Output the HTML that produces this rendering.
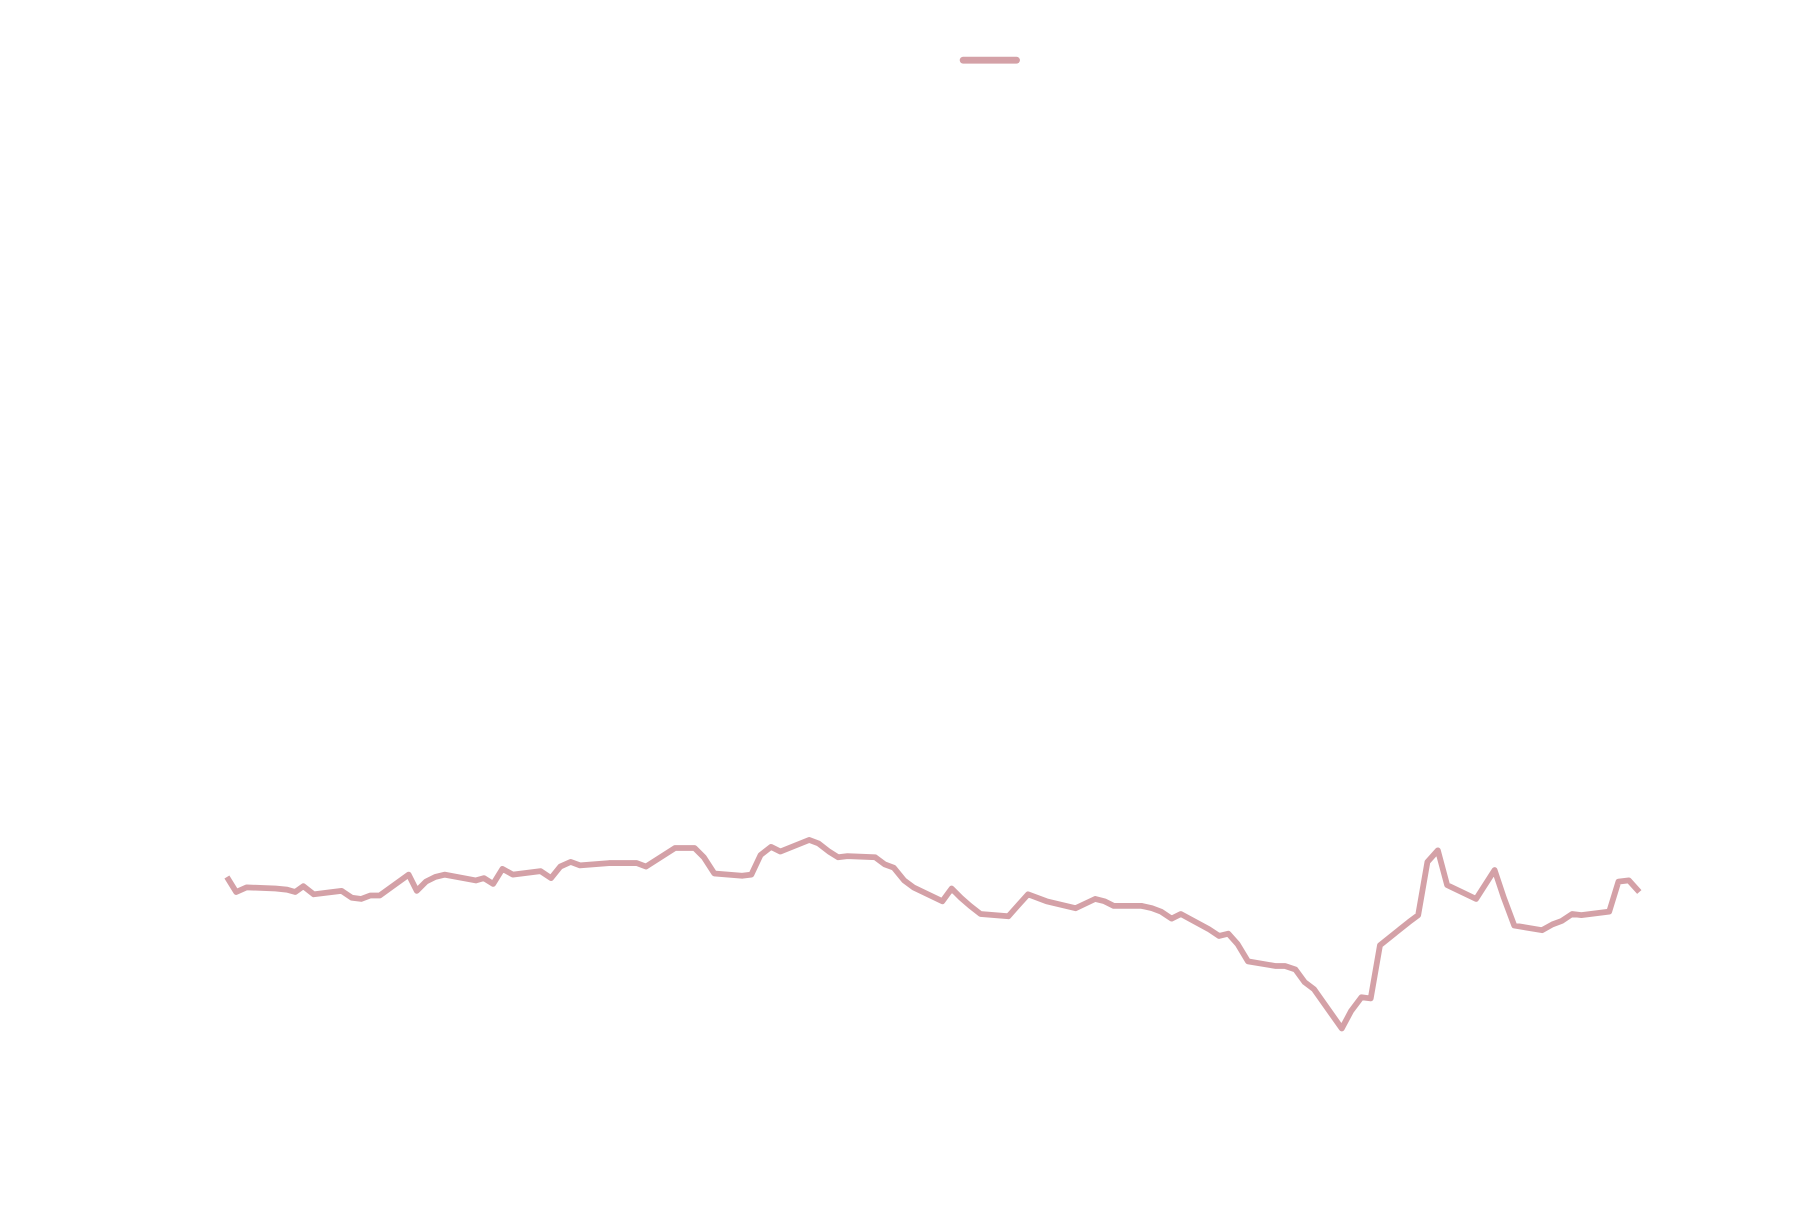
<!DOCTYPE html>
<html><head><meta charset="utf-8"><style>html,body{margin:0;padding:0;background:#fff}svg{display:block}</style></head>
<body>
<svg width="1806" height="1209" viewBox="0 0 1560 1045" preserveAspectRatio="none" xmlns="http://www.w3.org/2000/svg">
<line x1="832" y1="52" x2="878" y2="52" stroke="#d4a1a7" stroke-width="6" stroke-linecap="round"/>
<g id="plot"></g>
</svg>
<script>
const days = [0,8,17,42,52,59,66,75,99,108,116,124,132,157,164,172,180,188,215,222,230,238,247,271,280,288,297,305,330,354,362,387,404,412,421,445,453,461,470,478,503,511,520,528,536,560,568,576,585,593,618,626,634,642,651,675,683,692,708,733,750,758,766,790,799,807,816,824,848,857,865,873,882,906,914,923,931,939,963,971,980,988,996,1021,1029,1037,1046,1054,1079,1095,1103,1112,1136,1145,1153,1162,1170,1194,1202,1211,1220];
const values = [242,229,233,232,231,229,234,227,230,224,223,226,226,244,230,238,242,244,239,241,236,249,244,247,241,251,255,252,254,254,251,267,267,259,245,243,244,261,268,264,274,271,264,259,260,259,253,250,239,233,221,232,224,217,210,208,217,227,221,215,223,221,217,217,215,212,206,210,197,191,193,184,169,165,165,162,151,145,111,126,138,137,183,203,209,255,265,235,223,248,224,200,196,201,204,210,209,212,238,239,229];
const xScale = d => 196 + d;
const yScale = v => 1000 - v;
const g = document.getElementById('plot');
const p = document.createElementNS('http://www.w3.org/2000/svg','polyline');


p.setAttribute('points', days.map((d,i)=>xScale(d)+','+yScale(values[i])).join(' '));
p.setAttribute('fill','none');
p.setAttribute('stroke','#d4a1a7');
p.setAttribute('stroke-width','5');
p.setAttribute('stroke-linejoin','round');
g.appendChild(p);
</script>
</body></html>
